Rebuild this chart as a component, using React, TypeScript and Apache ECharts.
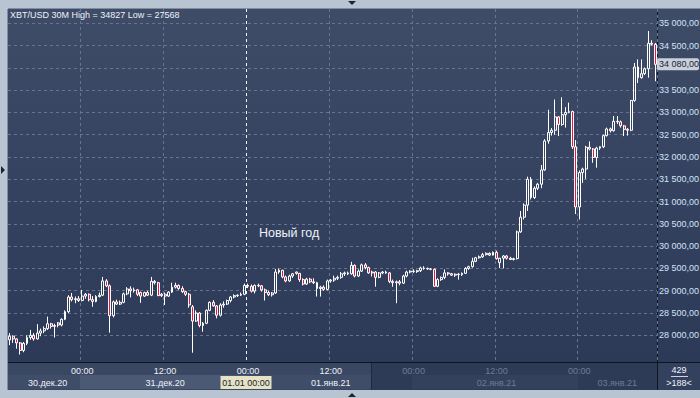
import React, { useEffect, useRef } from "react";
import * as echarts from "echarts";

// ---- data -------------------------------------------------------------
const TITLE = "XBT/USD 30M High = 34827 Low = 27568";
const START_MS = Date.UTC(2020, 11, 30, 13, 30); // first visible candle
const HALF_HOUR = 30 * 60 * 1000;

// [open, high, low, close]
const candles: number[][] = [
  [27900, 28050, 27780, 27980], [27980, 28000, 27830, 27920], [27920, 27930, 27700, 27830], [27830, 27850, 27568, 27660],
  [27660, 27850, 27620, 27820], [27820, 28000, 27780, 27950], [27950, 28120, 27900, 28000], [28000, 28050, 27880, 27920],
  [27920, 28250, 27900, 28050], [28050, 28150, 27980, 28100], [28100, 28200, 28050, 28150], [28150, 28420, 28120, 28260],
  [28260, 28280, 28150, 28200], [28200, 28260, 27950, 28220], [28280, 28300, 28180, 28230], [28230, 28380, 28200, 28360],
  [28360, 28560, 28340, 28530], [28530, 28900, 28500, 28860], [28860, 28950, 28760, 28800], [28800, 28870, 28720, 28820],
  [28820, 28880, 28750, 28780], [28780, 29020, 28760, 28880], [28880, 28950, 28820, 28920], [28920, 28940, 28760, 28800],
  [28800, 28880, 28640, 28760], [28760, 28900, 28740, 28870], [28870, 28960, 28850, 28900], [28900, 29310, 28880, 29220],
  [29220, 29260, 29080, 29110], [29110, 29140, 28060, 28440], [28440, 28780, 28400, 28750], [28750, 28800, 28680, 28700],
  [28700, 28780, 28680, 28740], [28740, 28960, 28720, 28930], [28930, 29080, 28900, 29040], [29040, 29100, 28850, 29000],
  [29000, 29070, 28960, 29020], [29020, 29040, 28880, 28920], [28960, 28980, 28730, 28880], [28880, 28980, 28860, 28960],
  [28960, 29000, 28880, 28900], [28900, 29310, 28880, 29210], [29210, 29240, 29140, 29180], [29180, 29200, 28880, 28890],
  [28890, 28950, 28860, 28920], [28920, 28960, 28680, 28880], [28880, 28990, 28860, 28970], [28970, 29180, 28950, 29080],
  [29080, 29180, 29050, 29120], [29120, 29140, 29020, 29050], [29050, 29100, 28950, 28980], [28980, 29000, 28880, 28920],
  [28920, 28950, 28620, 28680], [28640, 28680, 27610, 28320], [28320, 28560, 28300, 28500], [28500, 28520, 28180, 28220],
  [28220, 28300, 28080, 28270], [28270, 28580, 28250, 28560], [28560, 28760, 28540, 28740], [28740, 28790, 28640, 28660],
  [28660, 28680, 28380, 28450], [28450, 28720, 28420, 28680], [28680, 28760, 28620, 28700], [28700, 28800, 28680, 28780],
  [28780, 28880, 28740, 28860], [28860, 28920, 28830, 28890], [28890, 28920, 28860, 28900], [28900, 28960, 28880, 28920],
  [28920, 29160, 28900, 29120], [29120, 29160, 29060, 29100], [29100, 29140, 28960, 28990], [28990, 29140, 28940, 29120],
  [29120, 29160, 29080, 29110], [29110, 29130, 28980, 29020], [29020, 29050, 28780, 28960], [28960, 29000, 28880, 28910],
  [28910, 28970, 28870, 28950], [28950, 29490, 28930, 29420], [29420, 29500, 29380, 29460], [29460, 29470, 29280, 29310],
  [29310, 29340, 29190, 29220], [29220, 29360, 29200, 29330], [29330, 29400, 29290, 29380], [29420, 29430, 29360, 29390],
  [29390, 29400, 29200, 29250], [29250, 29280, 29120, 29150], [29150, 29290, 29130, 29260], [29260, 29290, 29170, 29200],
  [29200, 29280, 29150, 29180], [29180, 29200, 28870, 29050], [29050, 29110, 28870, 29080], [29080, 29120, 29000, 29030],
  [29030, 29250, 29010, 29220], [29220, 29260, 29180, 29240], [29240, 29340, 29200, 29280], [29280, 29340, 29240, 29300],
  [29300, 29420, 29270, 29380], [29380, 29430, 29330, 29400], [29400, 29430, 29350, 29380], [29380, 29650, 29360, 29570],
  [29570, 29590, 29300, 29330], [29330, 29480, 29310, 29440], [29440, 29610, 29420, 29580], [29580, 29620, 29480, 29520],
  [29520, 29540, 29380, 29400], [29400, 29450, 29320, 29420], [29420, 29440, 29090, 29300], [29300, 29420, 29280, 29400],
  [29400, 29440, 29370, 29420], [29420, 29450, 29380, 29400], [29400, 29420, 29170, 29210], [29210, 29250, 29090, 29180],
  [29180, 29230, 28720, 29200], [29200, 29240, 29120, 29170], [29170, 29360, 29150, 29330], [29330, 29450, 29300, 29420],
  [29420, 29460, 29390, 29440], [29440, 29480, 29400, 29430], [29430, 29470, 29400, 29450], [29450, 29540, 29420, 29510],
  [29510, 29550, 29470, 29500], [29500, 29520, 29470, 29490], [29490, 29510, 29460, 29480], [29480, 29500, 29090, 29100],
  [29100, 29280, 29080, 29250], [29250, 29320, 29220, 29300], [29300, 29480, 29260, 29400], [29400, 29420, 29340, 29380],
  [29380, 29400, 29330, 29350], [29350, 29390, 29310, 29370], [29370, 29400, 29250, 29360], [29360, 29410, 29330, 29390],
  [29390, 29530, 29380, 29500], [29500, 29560, 29470, 29540], [29540, 29740, 29520, 29660], [29660, 29760, 29640, 29740],
  [29740, 29790, 29720, 29760], [29760, 29850, 29740, 29810], [29810, 29860, 29790, 29840], [29840, 29860, 29780, 29800],
  [29800, 29880, 29790, 29860], [29860, 29900, 29700, 29720], [29630, 29740, 29510, 29730], [29730, 29800, 29500, 29780],
  [29780, 29800, 29700, 29730], [29730, 29760, 29690, 29700], [29700, 29740, 29680, 29720], [29720, 30350, 29700, 30320],
  [30320, 30790, 30300, 30650], [30650, 30960, 30600, 30920], [30920, 31560, 30790, 31500], [31500, 31550, 31050, 31090],
  [31090, 31340, 31060, 31300], [31300, 31420, 31260, 31390], [31390, 31820, 31300, 31710], [31710, 32400, 31690, 32360],
  [32360, 33060, 32300, 32550], [32550, 32650, 32480, 32600], [32600, 33290, 32500, 32900], [32900, 32920, 32470, 32730],
  [32730, 33340, 32700, 32950], [32950, 33120, 32660, 33000], [33000, 33220, 32980, 33020], [33020, 33040, 32180, 32230],
  [32230, 32380, 30720, 30880], [30880, 31700, 30600, 31650], [31650, 31760, 31420, 31730], [31730, 32250, 31510, 32220],
  [32220, 32350, 32150, 32180], [32180, 32200, 31870, 31990], [31990, 32230, 31760, 32200], [32200, 32240, 32160, 32230],
  [32230, 32500, 32200, 32480], [32480, 32660, 32460, 32630], [32630, 32660, 32550, 32590], [32590, 32920, 32570, 32800],
  [32800, 32920, 32740, 32790], [32790, 32820, 32660, 32700], [32700, 32720, 32470, 32620], [32620, 32650, 32480, 32600],
  [32600, 33280, 32580, 33270], [33270, 34110, 33240, 34020], [34020, 34190, 33660, 33780], [33780, 34190, 33760, 33870],
  [33870, 34010, 33840, 33980], [33980, 34827, 33780, 34550], [34550, 34620, 34500, 34530], [34530, 34560, 33700, 34080],
];

const Y_MIN = 27500;
const Y_MAX = 35000;
const Y_STEP = 500;
const HIDDEN_TICK = 34000; // covered by the last-price marker

const dateLabels = ["30.дек.20", "31.дек.20", "01.янв.21", "02.янв.21", "03.янв.21"];
const dateLabelIdx = [11, 45, 93, 141, 176];
const NEW_YEAR = "01.01 00:00";
const NEW_YEAR_TEXT = "Новый год";
const BAR_COUNT_TOP = "429";
const BAR_COUNT_BOTTOM = ">188<";
const DIM_FROM_INDEX = 105;

// ---- helpers ----------------------------------------------------------
const pad = (n: number) => String(n).padStart(2, "0");
const times: string[] = candles.map((_, i) => {
  const d = new Date(START_MS + i * HALF_HOUR);
  return `${pad(d.getUTCDate())}.${pad(d.getUTCMonth() + 1)} ${pad(d.getUTCHours())}:${pad(d.getUTCMinutes())}`;
});
const isGridTime = (t: string) => t.endsWith("00:00") || t.endsWith("12:00");
const fmtPrice = (v: number) =>
  String(Math.round(v)).replace(/\B(?=(\d{3})+(?!\d))/g, " ") + ",00";

const FONT = "'Liberation Sans', Arial, sans-serif";

export default function App() {
  const ref = useRef<HTMLDivElement>(null);

  useEffect(() => {
    if (!ref.current) return;
    const chart = echarts.init(ref.current, undefined, { renderer: "svg" });

    const ecData = candles.map(([o, h, l, c]) => [o, c, l, h]);
    const lastClose = candles[candles.length - 1][3];

    const gridTimes = times.filter(isGridTime);
    const splitColors = gridTimes.map((t) => (t === NEW_YEAR ? "#f2f5fa" : "#66748f"));

    const bgGrad = new echarts.graphic.LinearGradient(0, 0, 0, 1, [
      { offset: 0, color: "#3f4c68" },
      { offset: 1, color: "#2c3957" },
    ]);

    const option: any = {
      animation: false,
      backgroundColor: "#b9c4d3",
      textStyle: { fontFamily: FONT },
      grid: [
        { left: 8, right: 43, top: 23.3, height: 334.3, containLabel: false, outerBoundsMode: "none" },
        { left: 8, right: 43, top: 9, height: 353, containLabel: false, outerBoundsMode: "none" },
      ],
      xAxis: [
        { gridIndex: 0, type: "category", data: times, boundaryGap: true, show: false },
        {
          gridIndex: 1,
          type: "category",
          data: times,
          boundaryGap: true,
          position: "bottom",
          axisLine: { show: false },
          axisTick: { show: false },
          splitLine: {
            show: true,
            interval: (i: number) => isGridTime(times[i]),
            lineStyle: { color: splitColors, type: [3, 3], width: 1 },
          },
          axisLabel: {
            interval: (i: number) => isGridTime(times[i]),
            formatter: (v: string) => v.slice(6),
            fontSize: 9,
            margin: 4,
            color: (v: string) => (times.indexOf(v) >= DIM_FROM_INDEX ? "#6e7b94" : "#eef2f8"),
          },
        },
        {
          gridIndex: 1,
          type: "category",
          data: times,
          boundaryGap: true,
          position: "bottom",
          axisLine: { show: false },
          axisTick: { show: false },
          splitLine: { show: false },
          axisLabel: {
            interval: (i: number) => dateLabelIdx.includes(i),
            formatter: (_v: string, i: number) => dateLabels[dateLabelIdx.indexOf(i)] ?? "",
            fontSize: 9,
            margin: 16,
            color: (v: string) => (times.indexOf(v) >= DIM_FROM_INDEX ? "#6e7b94" : "#eef2f8"),
          },
        },
      ],
      yAxis: [
        {
          gridIndex: 0,
          type: "value",
          position: "right",
          min: Y_MIN,
          max: Y_MAX,
          interval: Y_STEP,
          axisLine: { show: false },
          axisTick: { show: false },
          splitLine: {
            show: true,
            showMinLine: false,
            lineStyle: { color: "#66748f", type: [3, 3], width: 1 },
          },
          axisLabel: {
            showMinLabel: false,
            fontSize: 9,
            margin: 2,
            color: "#d3e3f7",
            formatter: (v: number) => (v === HIDDEN_TICK ? "" : fmtPrice(v)),
          },
        },
        { gridIndex: 1, type: "value", min: 0, max: 1, show: false },
      ],
      series: [
        {
          type: "candlestick",
          xAxisIndex: 0,
          yAxisIndex: 0,
          data: ecData,
          barWidth: 2.4,
          silent: true,
          itemStyle: {
            color: "rgba(0,0,0,0)",
            color0: "#e8153f",
            borderColor: "#ffffff",
            borderColor0: "#ffffff",
            borderWidth: 1,
          },
          markLine: {
            silent: true,
            symbol: "none",
            lineStyle: { color: "rgba(0,0,0,0)", width: 1, type: "solid" },
            data: [{ yAxis: lastClose }],
            label: {
              show: true,
              position: "end",
              distance: 0,
              formatter: fmtPrice(lastClose),
              backgroundColor: "#c8d0db",
              color: "#1b2231",
              fontSize: 9,
              padding: [2, 0, 1, 2],
              borderRadius: 2,
            },
          },
        },
      ],
      graphic: [
        // plot + price-axis background
        { type: "rect", z: -100, shape: { x: 8, y: 9, width: 692, height: 353 }, style: { fill: bgGrad } },
        // time-axis band
        { type: "rect", z: -100, shape: { x: 8, y: 363, width: 363, height: 27 }, style: { fill: "#3a4763" } },
        { type: "rect", z: -99, shape: { x: 8, y: 375, width: 72, height: 14 }, style: { fill: "#404d69" } },
        { type: "rect", z: -99, shape: { x: 80, y: 375, width: 167, height: 14 }, style: { fill: "#4b5975" } },
        { type: "rect", z: -99, shape: { x: 247, y: 375, width: 124, height: 14 }, style: { fill: "#404d69" } },
        { type: "rect", z: -100, shape: { x: 371, y: 363, width: 286, height: 27 }, style: { fill: "#2e3b57" } },
        { type: "rect", z: -99, shape: { x: 412, y: 375, width: 166, height: 14 }, style: { fill: "#34415d" } },
        { type: "rect", z: -100, shape: { x: 657, y: 363, width: 43, height: 27 }, style: { fill: "#34415e" } },
        // frame lines
        { type: "line", z: -50, shape: { x1: 8, y1: 362.5, x2: 700, y2: 362.5 }, style: { stroke: "#10141c", lineWidth: 1 } },
        { type: "line", z: -50, shape: { x1: 657.5, y1: 9, x2: 657.5, y2: 390 }, style: { stroke: "#10141c", lineWidth: 1 } },
        { type: "line", z: -50, shape: { x1: 371.5, y1: 363, x2: 371.5, y2: 390 }, style: { stroke: "#1f2a40", lineWidth: 1 } },
        { type: "line", z: -50, shape: { x1: 7.5, y1: 9, x2: 7.5, y2: 390 }, style: { stroke: "#7f8ca2", lineWidth: 1 } },
        { type: "line", z: -50, shape: { x1: 8, y1: 8.5, x2: 700, y2: 8.5 }, style: { stroke: "#7f8ca2", lineWidth: 1 } },
        // little scroll markers
        { type: "polygon", z: 5, shape: { points: [[348, 1], [356, 1], [352, 5]] }, style: { fill: "#1c2230" } },
        { type: "polygon", z: 5, shape: { points: [[348, 397], [356, 397], [352, 393]] }, style: { fill: "#1c2230" } },
        { type: "polygon", z: 5, shape: { points: [[1, 166], [5, 170], [1, 174]] }, style: { fill: "#1c2230" } },
        // header
        {
          type: "text",
          z: 10,
          x: 10,
          y: 15,
          style: { text: TITLE, fill: "#eef2f8", font: `9px ${FONT}`, verticalAlign: "middle" },
        },
        // new year caption
        {
          type: "text",
          z: 10,
          x: 259,
          y: 233,
          style: { text: NEW_YEAR_TEXT, fill: "#eef2f8", font: `12.5px ${FONT}`, verticalAlign: "middle" },
        },
        // crosshair time tag
        { type: "rect", z: 10, shape: { x: 220.5, y: 376, width: 51, height: 13 }, style: { fill: "#e6e2c6" } },
        {
          type: "text",
          z: 11,
          x: 246,
          y: 383,
          style: { text: NEW_YEAR, fill: "#1a1f2b", font: `9px ${FONT}`, align: "center", verticalAlign: "middle" },
        },
        // bar counter box
        {
          type: "text",
          z: 10,
          x: 679,
          y: 369.5,
          style: { text: BAR_COUNT_TOP, fill: "#eef2f8", font: `9px ${FONT}`, align: "center", verticalAlign: "middle" },
        },
        { type: "line", z: 10, shape: { x1: 671, y1: 376.5, x2: 688, y2: 376.5 }, style: { stroke: "#c9d2de", lineWidth: 1 } },
        {
          type: "text",
          z: 10,
          x: 679,
          y: 383,
          style: { text: BAR_COUNT_BOTTOM, fill: "#eef2f8", font: `9px ${FONT}`, align: "center", verticalAlign: "middle" },
        },
      ],
    };

    chart.setOption(option);
    return () => chart.dispose();
  }, []);

  return (
    <div
      ref={ref}
      style={{ position: "fixed", left: 0, top: 0, width: 700, height: 398 }}
    />
  );
}
